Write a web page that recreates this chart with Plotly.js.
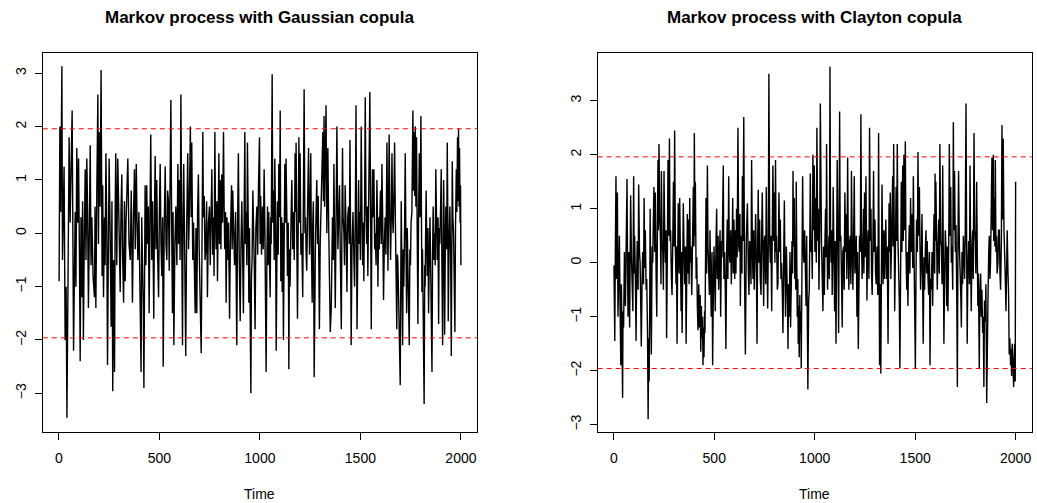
<!DOCTYPE html>
<html>
<head>
<meta charset="utf-8">
<script src="https://cdn.plot.ly/plotly-3.0.1.min.js"></script>
<style>html,body{margin:0;padding:0;background:#fff;}#chart{width:1037px;height:503px;}</style>
</head>
<body>
<div id="chart"></div>
<script>
// ---- data (time index, value) ----
var gaussTime = [1,5,9,12,15,18,22,26,31,36,40,45,51,56,61,66,73,77,81,85,89,94,98,102,106,110,114,118,122,127,131,135,139,143,147,152,156,160,164,170,177,180,184,189,194,197,200,205,210,215,218,222,227,230,234,238,242,246,250,255,260,264,268,272,277,280,283,288,293,299,305,309,313,317,322,326,330,334,338,343,349,355,360,366,371,376,380,385,389,393,398,404,409,412,416,420,423,426,429,433,437,441,445,449,453,457,462,466,469,472,476,479,483,487,491,496,500,504,508,512,516,519,524,529,533,537,541,545,549,553,557,561,565,568,572,577,582,587,592,596,599,603,607,611,615,618,621,626,631,636,641,645,648,654,658,661,666,670,674,678,682,686,690,694,698,703,708,712,716,719,723,727,731,735,739,744,749,753,757,761,765,769,772,776,779,782,786,789,793,796,799,802,806,810,814,819,822,825,829,832,836,839,844,849,854,859,862,865,869,874,879,882,885,889,893,897,902,906,910,914,918,922,925,928,932,935,938,942,945,948,951,955,958,961,965,968,972,976,980,985,989,993,998,1001,1004,1008,1013,1017,1021,1025,1028,1031,1035,1038,1041,1044,1048,1051,1054,1056,1061,1064,1068,1071,1074,1078,1081,1084,1087,1091,1094,1098,1101,1104,1108,1111,1114,1117,1121,1124,1127,1130,1134,1137,1141,1144,1147,1150,1155,1159,1163,1167,1171,1175,1178,1180,1184,1187,1191,1194,1197,1200,1204,1208,1213,1216,1220,1224,1227,1230,1233,1237,1242,1245,1247,1250,1253,1256,1260,1263,1266,1270,1273,1276,1280,1283,1287,1290,1293,1296,1300,1303,1308,1313,1316,1319,1322,1324,1329,1333,1338,1342,1345,1350,1355,1358,1361,1365,1368,1371,1375,1379,1383,1388,1392,1396,1400,1405,1408,1411,1414,1418,1421,1424,1428,1433,1437,1441,1445,1448,1451,1454,1458,1463,1467,1471,1475,1478,1483,1487,1491,1494,1497,1500,1504,1508,1511,1514,1517,1521,1524,1528,1531,1534,1537,1541,1547,1551,1554,1557,1560,1564,1567,1571,1574,1578,1582,1585,1587,1591,1594,1597,1600,1604,1607,1611,1615,1619,1623,1627,1632,1635,1637,1640,1643,1647,1650,1654,1657,1660,1663,1667,1670,1674,1677,1681,1684,1686,1690,1693,1698,1703,1706,1710,1713,1716,1720,1723,1727,1730,1733,1736,1740,1743,1746,1749,1752,1756,1761,1764,1768,1770,1773,1776,1779,1782,1786,1789,1793,1797,1801,1804,1806,1809,1812,1817,1820,1822,1825,1827,1830,1832,1836,1839,1843,1846,1849,1852,1856,1859,1862,1866,1869,1872,1875,1879,1882,1886,1889,1892,1895,1899,1902,1905,1909,1912,1914,1917,1919,1922,1925,1929,1932,1935,1937,1941,1945,1949,1952,1955,1957,1960,1963,1966,1970,1973,1977,1980,1983,1986,1988,1991,1993,1996,1998,2000];
var gaussValue = [-0.9,2.0,0.4,1.9,3.13,-0.5,0.8,1.25,-2.0,-1.0,-3.46,-0.9,1.8,0.2,1.6,2.3,-2.2,-0.5,0.4,-1.0,1.6,0.2,1.4,-0.3,-2.4,0.3,-1.2,0.6,-2.0,0.1,1.2,-0.5,1.4,0.4,-1.4,0.2,1.65,-0.6,0.3,-0.8,-1.2,0.5,-1.4,0.9,2.6,-0.2,1.9,0.5,3.06,-0.8,0.9,-1.2,0.3,-0.6,1.5,0.2,-2.47,-0.4,1.4,0.0,-1.75,0.6,-2.96,-0.5,-2.6,0.4,1.5,-0.6,1.4,0.2,-1.1,0.4,1.1,-0.4,-1.3,0.6,-0.9,0.2,0.9,1.4,-0.2,-0.5,0.8,-1.3,0.3,1.2,-0.3,1.3,0.2,-0.5,0.4,-1.6,-2.6,0.3,-0.3,-1.4,-2.9,-0.5,0.9,-0.6,0.9,-0.2,0.5,-1.5,0.2,1.85,-0.5,0.6,-0.4,-1.6,0.5,1.45,-0.3,1.0,-0.4,-1.2,0.4,1.3,-0.2,-0.8,0.3,-2.5,0.1,1.25,-0.2,-0.5,0.8,0.6,-0.7,0.5,2.5,0.2,-1.5,0.4,-2.1,-0.2,0.5,-0.6,1.3,-0.2,1.0,-0.5,2.6,0.0,-2.1,0.3,1.3,-0.4,-2.3,0.2,1.5,-0.3,0.2,2.0,0.3,1.7,-0.5,0.2,-0.8,-1.5,0.1,-1.5,0.4,1.1,-0.3,-1.6,-2.25,-0.2,1.9,0.3,0.7,-0.5,-0.3,0.6,-1.2,0.2,0.5,-0.6,0.3,1.2,-0.4,0.3,-0.8,1.9,0.4,-0.3,0.6,-0.9,0.4,1.5,-0.2,1.0,-0.3,1.1,0.2,1.9,0.5,-0.3,0.4,-1.3,0.3,-0.5,0.2,-1.6,0.1,0.9,-0.3,0.8,0.1,-0.6,0.4,-0.9,-2.1,0.2,1.5,-0.4,-1.65,-0.2,0.6,-0.4,-1.5,0.5,1.9,-0.2,0.4,-0.6,1.7,0.2,-1.3,0.1,-2.35,-3.0,-0.8,-0.5,0.8,0.4,-0.6,-1.8,0.1,0.5,-0.4,0.9,1.8,-0.2,0.7,-0.4,0.5,-0.3,1.2,0.0,-2.0,-2.6,-0.4,0.5,-0.6,0.4,-0.5,-1.2,0.3,-0.2,2.98,0.2,0.8,-0.5,1.4,0.2,-2.2,-0.3,0.6,-0.4,1.3,0.3,2.3,-0.9,0.3,-1.1,0.2,-2.0,0.1,1.3,0.2,1.4,0.3,-0.8,0.2,-2.55,-0.3,-1.0,0.3,1.0,-0.3,0.4,-0.5,1.5,0.4,1.7,-0.3,-1.6,0.3,1.8,0.2,1.5,-0.4,0.0,-1.2,0.4,2.7,0.0,0.3,-0.4,-0.7,0.4,1.6,0.2,-0.4,0.5,1.5,-0.2,-1.3,0.2,0.6,-2.7,-0.5,-0.3,0.5,1.0,-0.2,0.7,-0.5,-1.8,-0.2,0.3,0.8,1.9,0.6,2.2,0.5,1.5,2.4,0.0,1.6,0.2,-0.8,-1.85,-1.4,-0.2,0.3,-0.5,1.3,0.1,-1.4,0.3,2.0,-0.3,0.4,0.9,-0.4,-1.8,0.1,1.6,0.3,0.0,-0.6,0.9,0.2,-1.1,0.3,0.5,-0.2,1.75,0.0,-2.1,-0.3,0.4,-0.4,-1.0,0.5,2.4,-1.8,0.2,1.0,-0.2,0.4,-0.5,2.0,0.3,-0.6,0.2,-0.9,0.6,2.55,0.4,-0.2,0.5,-0.8,0.6,2.65,0.1,-1.8,0.2,1.2,0.3,1.2,-0.3,0.0,-0.6,1.0,0.2,-1.0,0.3,-0.3,0.4,0.8,-0.2,1.3,0.2,-1.25,-0.2,0.3,-0.4,1.7,0.3,-0.7,0.5,1.85,0.2,-0.5,0.4,1.5,0.3,0.0,0.8,1.7,0.2,-0.7,-1.8,-0.4,-0.5,-1.2,-1.8,-2.85,0.6,-0.9,-2.1,-0.3,-1.0,0.2,1.5,-0.4,-1.5,0.1,-0.5,-1.3,-2.1,-0.3,-0.6,0.2,0.4,2.3,0.8,1.9,0.7,2.0,0.5,1.8,-0.4,-1.7,0.2,1.5,0.3,2.2,0.1,-1.1,-0.3,-2.0,-3.2,-0.6,-1.0,0.2,0.8,-0.2,-0.8,0.1,-1.5,-0.4,0.3,-0.5,-1.2,-2.6,-0.4,0.5,-0.5,0.0,-0.6,1.2,0.2,-0.5,0.3,-1.7,0.1,-0.2,0.5,1.2,-0.4,-2.1,-0.3,1.0,0.0,-1.9,-0.4,0.5,-0.3,1.7,0.2,-1.65,-0.2,0.5,-0.5,-2.3,-0.1,1.35,0.3,0.0,-0.7,-1.85,0.1,1.2,0.4,1.8,0.6,1.96,0.5,1.6,0.2,0.9,-0.6];

var claytonTime = [1,5,8,11,14,18,21,24,28,31,35,38,40,44,46,49,53,58,62,66,69,71,75,79,82,84,88,91,95,99,102,104,108,111,114,117,121,124,128,131,134,137,141,144,148,151,154,157,161,164,168,171,174,176,179,181,184,187,191,194,197,200,204,207,211,214,217,220,222,225,229,232,235,237,241,244,247,250,254,257,260,263,267,270,274,277,280,283,287,290,294,297,300,303,307,310,312,315,318,321,325,328,332,335,337,340,343,346,350,353,357,360,363,366,369,371,375,378,381,384,388,391,394,396,399,401,404,406,410,413,416,419,423,426,430,433,436,439,442,444,447,449,452,454,457,459,462,466,469,472,476,479,482,485,489,492,496,499,502,505,509,512,515,519,522,525,529,532,536,539,542,545,548,552,555,558,562,565,568,572,575,578,582,585,589,592,595,598,602,605,608,611,614,618,622,625,628,630,633,635,638,640,643,647,651,655,660,665,670,673,676,679,683,686,690,693,696,699,703,706,710,713,716,719,722,726,729,733,736,739,743,746,749,752,756,759,762,766,769,772,776,779,782,786,789,792,796,799,802,805,808,810,814,817,820,822,826,829,832,835,839,842,846,849,852,855,859,862,865,867,870,873,877,880,884,887,890,892,895,898,901,903,906,908,911,913,916,918,920,923,926,928,931,933,937,940,943,946,950,953,957,960,963,966,970,973,976,978,982,985,988,991,995,998,1001,1004,1008,1011,1015,1018,1021,1025,1028,1031,1034,1037,1041,1044,1048,1051,1054,1057,1059,1062,1064,1068,1071,1073,1076,1079,1082,1085,1087,1090,1092,1096,1099,1102,1106,1109,1112,1116,1119,1121,1124,1127,1130,1134,1137,1140,1144,1147,1150,1154,1157,1160,1164,1167,1170,1174,1177,1180,1183,1187,1190,1194,1197,1200,1203,1207,1210,1213,1217,1220,1223,1227,1230,1233,1236,1240,1243,1245,1248,1251,1255,1258,1260,1263,1266,1270,1273,1277,1280,1283,1286,1290,1293,1296,1300,1303,1306,1310,1314,1316,1318,1321,1323,1326,1329,1332,1335,1338,1340,1343,1345,1348,1351,1354,1358,1361,1365,1368,1370,1373,1376,1379,1381,1384,1388,1390,1393,1396,1398,1402,1405,1408,1411,1414,1418,1421,1424,1428,1431,1434,1438,1441,1444,1448,1451,1454,1458,1461,1464,1468,1471,1474,1477,1481,1484,1488,1491,1494,1497,1501,1504,1507,1511,1514,1517,1521,1524,1527,1531,1534,1537,1540,1544,1547,1551,1554,1557,1560,1564,1567,1571,1574,1577,1580,1584,1587,1591,1594,1597,1599,1601,1603,1607,1610,1614,1617,1620,1623,1627,1630,1634,1637,1640,1643,1647,1650,1654,1657,1660,1663,1667,1670,1674,1677,1680,1683,1687,1690,1693,1696,1700,1703,1707,1710,1713,1716,1720,1723,1727,1730,1733,1736,1740,1743,1746,1749,1753,1756,1759,1762,1766,1770,1773,1776,1779,1783,1786,1789,1793,1796,1799,1802,1806,1809,1812,1815,1819,1822,1826,1829,1832,1836,1839,1842,1845,1849,1852,1856,1859,1862,1866,1869,1872,1875,1878,1882,1885,1889,1891,1894,1897,1899,1902,1905,1908,1912,1915,1919,1922,1925,1929,1932,1935,1938,1942,1945,1948,1952,1955,1958,1962,1965,1968,1971,1975,1977,1980,1983,1985,1988,1990,1993,1995,1998,2000];
var claytonValue = [-0.05,-1.45,0.3,1.6,-0.3,1.3,-1.0,-0.2,0.5,-0.7,-1.9,-0.4,-1.3,-2.5,-0.9,-1.2,0.2,-0.8,0.4,1.55,-0.3,-1.0,0.2,-1.2,0.3,1.25,0.1,-0.2,-0.9,1.6,-0.2,0.5,-0.4,-1.45,-0.2,0.4,-0.5,1.45,0.2,0.0,-0.7,-1.55,-0.3,0.2,-0.4,1.2,-0.1,0.6,-0.5,-0.3,-1.3,-2.9,-1.4,-2.2,-0.8,1.0,-0.4,-1.7,0.3,0.0,0.8,1.4,0.2,1.3,-0.3,-1.0,0.5,1.9,0.6,2.2,0.8,0.5,-0.4,1.7,0.3,0.2,-0.5,1.7,0.4,0.0,0.6,-1.4,0.3,1.9,0.5,2.3,0.4,0.6,-0.3,-0.6,0.5,1.5,0.3,2.45,0.2,-0.4,0.3,-1.5,0.1,1.1,-0.2,1.2,0.1,-0.9,0.2,-1.3,-0.2,1.1,0.2,-0.4,0.3,-1.5,-0.3,0.9,-0.2,0.8,-0.4,1.2,0.0,0.3,-0.6,0.1,0.6,1.4,0.3,2.4,0.5,1.5,-0.3,0.1,-0.8,-1.25,-0.4,-1.2,-0.6,-1.65,-0.8,-1.4,-1.0,-1.9,-1.2,-1.75,-0.9,-1.3,0.2,1.2,-0.2,1.8,0.3,0.0,-0.6,0.6,-0.3,-1.0,0.2,-1.9,-0.4,0.3,-0.2,-0.9,0.4,1.0,-0.3,0.5,-0.5,0.3,0.6,-1.0,0.4,0.1,0.8,1.8,-0.3,0.2,-0.5,-1.6,0.2,0.8,-0.3,1.6,0.2,0.0,0.6,-0.4,0.3,1.2,-0.2,0.8,-0.3,0.6,-0.2,1.0,0.1,2.5,0.3,0.2,0.9,-0.8,0.4,0.5,-0.2,1.6,0.4,2.7,-0.3,-1.7,0.5,1.1,-0.2,-0.6,0.4,0.3,-0.4,1.9,0.2,-0.3,0.6,-0.5,0.3,0.9,-0.2,-1.5,0.3,1.35,0.0,0.8,-0.3,-0.6,0.5,1.3,0.1,-0.8,0.4,0.5,-0.4,1.4,0.2,-0.85,0.3,3.5,0.4,0.0,0.5,-0.9,0.6,1.8,0.4,1.3,0.0,1.9,0.2,0.5,-0.5,-0.4,0.5,1.3,0.2,0.8,-0.3,0.0,-0.6,-1.3,0.2,1.15,-0.2,-1.0,0.3,-0.1,-0.8,-1.6,-0.4,-1.0,0.2,-1.2,-0.3,0.4,-0.2,1.7,0.3,1.2,-0.3,0.2,-0.5,1.5,0.0,-1.0,-0.3,-1.5,-0.8,-1.75,-0.6,-1.3,-0.9,-1.95,-0.2,1.6,0.3,0.0,0.6,-0.3,-0.8,0.5,-0.6,-2.35,-0.7,-0.5,0.6,1.65,0.2,0.4,-0.3,2.0,0.6,1.8,0.2,1.2,0.0,2.5,0.4,1.0,-0.5,0.6,2.95,0.5,0.3,-0.2,-0.9,0.3,-0.6,0.4,1.0,0.1,2.2,0.3,-0.5,0.2,0.5,-0.3,3.63,0.5,0.0,0.6,-0.6,0.3,1.4,0.1,-0.9,0.4,-1.5,0.2,1.9,0.3,-1.3,0.2,2.8,0.4,0.5,-0.4,-1.2,0.2,0.3,-0.5,1.3,0.2,0.9,-0.3,1.95,0.3,-0.5,0.4,0.5,-0.4,1.7,0.2,-0.5,0.6,1.6,-0.2,0.1,0.5,-1.0,0.2,-1.6,-0.3,0.5,0.2,2.75,0.4,-0.3,0.3,1.0,-0.2,1.3,0.1,1.6,0.3,-0.7,0.2,0.6,-0.3,2.5,0.4,1.0,-0.2,-0.6,0.4,1.7,0.2,0.8,-0.2,-0.4,0.3,-0.6,0.4,2.4,-0.5,-1.9,-0.4,-2.05,-0.2,1.45,0.3,-0.4,0.2,0.6,-0.3,0.4,0.8,-0.3,0.3,-1.5,0.0,1.1,0.2,1.3,-0.3,0.2,0.7,1.6,0.3,2.2,0.5,-0.9,0.3,1.4,0.4,2.2,0.5,0.0,-0.7,-1.95,0.3,1.5,0.2,1.8,0.4,2.0,0.6,2.25,0.3,-0.5,0.2,-0.8,0.3,0.7,-0.2,1.2,0.2,0.9,-0.1,1.6,0.3,-1.3,-1.95,-0.3,0.8,0.2,2.05,0.5,1.4,0.3,-0.5,0.2,0.9,-0.3,-1.5,0.1,-0.5,0.3,0.6,-0.2,0.4,-0.3,-0.6,0.2,-1.9,-0.3,-0.5,0.2,-0.8,0.3,0.9,-0.2,1.65,0.4,1.5,0.2,-0.5,0.3,0.8,-0.2,2.2,0.4,0.3,-0.4,1.8,0.2,-1.5,-0.2,0.6,0.2,-0.8,0.3,-0.9,0.4,2.2,0.5,1.4,0.0,0.3,-0.5,2.6,0.6,1.7,0.2,0.7,-0.6,-2.3,0.4,1.7,0.3,0.0,-0.6,-1.2,0.2,-0.4,0.5,0.2,-0.3,0.5,2.95,0.4,-1.5,-0.2,0.4,-0.4,1.8,0.2,-0.9,0.3,0.6,-0.3,2.4,0.6,0.4,-0.2,1.5,0.2,-0.8,-0.2,-1.95,-0.6,-0.2,-1.0,-0.5,-1.3,-1.0,-2.3,-0.7,-1.1,-0.4,-2.6,-1.0,-0.8,0.2,0.5,-0.3,0.0,0.8,1.95,0.6,2.0,0.4,1.2,0.3,1.9,0.2,0.5,-0.2,0.0,0.6,0.6,-0.2,-0.5,0.4,2.55,0.8,2.3,0.6,0.3,-0.2,-0.9,0.2,0.6,-0.2,-0.6,-1.7,-1.4,-1.9,-1.6,-2.1,-1.5,-1.7,-2.0,-2.3,-1.8,-1.5,-2.2,1.5];

var xTicks = [0, 500, 1000, 1500, 2000];
var yTicks = [-3, -2, -1, 0, 1, 2, 3];
var critical = [-1.96, 1.96];
var titles = ["Markov process with Gaussian copula", "Markov process with Clayton copula"];
var xLabel = "Time";

// ---- figure ----
var W = 1037, H = 503;
function px(x) { return x / W; }
function py(y) { return 1 - y / H; }

var font = "Liberation Sans, Arial, Helvetica, sans-serif";
var lineTrace = function (t, v, xa, ya) {
  return { x: t, y: v, xaxis: xa, yaxis: ya, type: "scatter", mode: "lines",
           line: { color: "#000", width: 1.4 }, hoverinfo: "skip", showlegend: false };
};
var data = [
  lineTrace(gaussTime, gaussValue, "x", "y"),
  lineTrace(claytonTime, claytonValue, "x2", "y2")
];

function xAxis(domain, anchor) {
  return { domain: domain, anchor: anchor, range: [-79.96, 2079.96], tickmode: "array", tickvals: xTicks,
    ticktext: xTicks.map(String), ticks: "outside", ticklen: 7, tickwidth: 1, tickcolor: "#000",
    showline: true, linecolor: "#000", linewidth: 1, mirror: true, showgrid: false, zeroline: false,
    tickfont: { family: font, size: 14, color: "#000" }, ticklabelstandoff: 6, fixedrange: true };
}
function yAxis(domain, anchor, range) {
  return { domain: domain, anchor: anchor, range: range, tickmode: "array", tickvals: yTicks,
    ticktext: yTicks.map(function (v) { return v < 0 ? "\u2212" + Math.abs(v) : String(v); }),
    ticks: "outside", ticklen: 7, tickwidth: 1, tickcolor: "#000", tickangle: -90,
    showline: true, linecolor: "#000", linewidth: 1, mirror: true, showgrid: false, zeroline: false,
    tickfont: { family: font, size: 14, color: "#000" }, ticklabelstandoff: 3, fixedrange: true };
}

var yDom = [py(432.3), py(52.7)];
var xDom1 = [px(42.8), px(477.0)];
var xDom2 = [px(597.7), px(1031.7)];

var shapes = [];
[["x", "y"], ["x2", "y2"]].forEach(function (ax) {
  critical.forEach(function (c) {
    shapes.push({ type: "line", xref: ax[0] + " domain", yref: ax[1], x0: 0, x1: 1, y0: c, y1: c,
      line: { color: "#ff0000", width: 1, dash: "5px,4px" } });
  });
});

var annotations = [];
[xDom1, xDom2].forEach(function (d, i) {
  var cx = (d[0] + d[1]) / 2;
  annotations.push({ text: titles[i], xref: "paper", yref: "paper", x: cx, y: py(17.5),
    xanchor: "center", yanchor: "middle", showarrow: false,
    font: { family: font, size: 17, color: "#000", weight: "bold" } });
  annotations.push({ text: xLabel, xref: "paper", yref: "paper", x: cx, y: py(494),
    xanchor: "center", yanchor: "middle", showarrow: false,
    font: { family: font, size: 14, color: "#000" } });
});

var layout = {
  width: W, height: H, margin: { l: 0, r: 0, t: 0, b: 0 },
  paper_bgcolor: "#fff", plot_bgcolor: "#fff", showlegend: false,
  xaxis: xAxis(xDom1, "y"), yaxis: yAxis(yDom, "x", [-3.731, 3.386]),
  xaxis2: xAxis(xDom2, "y2"), yaxis2: yAxis(yDom, "x2", [-3.141, 3.889]),
  shapes: shapes, annotations: annotations
};

Plotly.newPlot("chart", data, layout, { staticPlot: true, displayModeBar: false });
</script>
</body>
</html>
